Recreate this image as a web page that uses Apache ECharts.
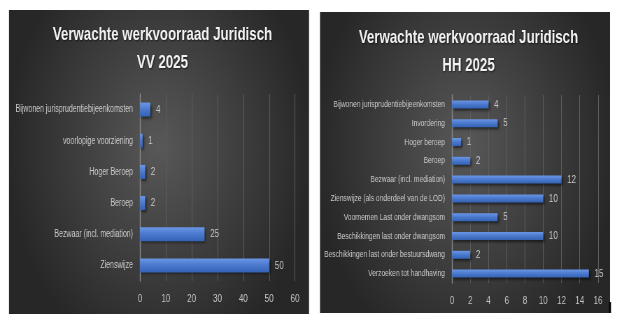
<!DOCTYPE html>
<html><head><meta charset="utf-8">
<script src="https://cdn.jsdelivr.net/npm/echarts@6/dist/echarts.min.js"></script>
<style>
html,body{margin:0;padding:0;background:#fff;overflow:hidden}
#wrap{width:624px;height:324px;overflow:hidden}
#c{width:892px;height:324px;transform:scaleX(0.69955);transform-origin:0 0}
</style>
</head><body><div id="wrap"><div id="c"></div></div>
<script>
// Left chart: VV 2025 (bottom-to-top order as echarts category axis)
const vvCategories = ['Zienswijze','Bezwaar (incl. mediation)','Beroep','Hoger Beroep','voorlopige voorziening','Bijwonen jurisprudentiebijeenkomsten'];
const vvValues = [50, 25, 2, 2, 1, 4];
const vvTicks = [0, 10, 20, 30, 40, 50, 60];
// Right chart: HH 2025
const hhCategories = ['Verzoeken tot handhaving','Beschikkingen last onder bestuursdwang','Beschikkingen last onder dwangsom','Voornemen Last onder dwangsom','Zienswijze (als onderdeel van de LOD)','Bezwaar (incl. mediation)','Beroep','Hoger beroep','Invordering','Bijwonen jurisprudentiebijeenkomsten'];
const hhValues = [15, 2, 10, 5, 10, 12, 2, 1, 5, 4];
const hhTicks = [0, 2, 4, 6, 8, 10, 12, 14, 16];
const titleVV = 'Verwachte werkvoorraad Juridisch\nVV 2025';
const titleHH = 'Verwachte werkvoorraad Juridisch\nHH 2025';

// The chart is drawn horizontally condensed (like the narrow Office font) via a CSS scaleX.
const W = 892, S = 624 / W;
const px = v => v / S;
const FONT = '"Liberation Sans", Arial, sans-serif';
const chart = echarts.init(document.getElementById('c'), null, {renderer:'canvas', width:W, height:324});
function bg(){
  return {type:'radial', x:0.5, y:0.45, r:0.72, colorStops:[{offset:0,color:'#585858'},{offset:1,color:'#272727'}]};
}
const barColor = {type:'linear',x:0,y:0,x2:0,y2:1,colorStops:[{offset:0,color:'#6a97e6'},{offset:0.5,color:'#4a78cc'},{offset:1,color:'#3462b4'}]};
function xAxis(gi, ticks){
  return {type:'value', gridIndex:gi, min:ticks[0], max:ticks[ticks.length-1], interval:ticks[1]-ticks[0],
    axisLine:{show:false}, axisTick:{show:false},
    splitLine:{lineStyle:{color:'#5e5e5e', width:1}},
    axisLabel:{color:'#c4c4c4', fontFamily:FONT, fontSize:11.5, margin:12}};
}
function yAxis(gi, cats, fs){
  return {type:'category', gridIndex:gi, data:cats,
    axisLine:{show:true, lineStyle:{color:'#8a8a8a', width:1.4}}, axisTick:{show:false},
    axisLabel:{color:'#cacaca', fontFamily:FONT, fontSize:fs, margin:10}};
}
function series(gi, vals, w){
  return {type:'bar', xAxisIndex:gi, yAxisIndex:gi, data:vals, barWidth:w,
    itemStyle:{color:barColor, shadowColor:'rgba(0,0,0,0.55)', shadowBlur:3, shadowOffsetX:2, shadowOffsetY:2},
    label:{show:true, position:'right', distance:8, color:'#c8c8c8', fontFamily:FONT, fontSize:11.5},
    silent:true, animation:false};
}
const titleStyle = {color:'#f2f2f2', fontFamily:FONT, fontWeight:'bold', fontSize:19, lineHeight:28,
  textShadowColor:'rgba(0,0,0,0.6)', textShadowBlur:2, textShadowOffsetX:1, textShadowOffsetY:1};
chart.setOption({
  backgroundColor:'#ffffff',
  animation:false,
  graphic:[
    {type:'rect', shape:{x:px(9),y:10,width:px(300),height:304}, style:{fill:bg()}, z:-10},
    {type:'rect', shape:{x:px(320),y:12,width:px(290),height:301}, style:{fill:bg()}, z:-10},
    {type:'rect', shape:{x:px(609),y:302,width:px(2),height:11}, style:{fill:'#000'}, z:-9}
  ],
  title:[
    {text:titleVV, left:px(159), top:16, textAlign:'center', textStyle:titleStyle},
    {text:titleHH, left:px(465), top:19, textAlign:'center', textStyle:titleStyle}
  ],
  grid:[
    {left:px(140), right:W-px(295), top:94, height:187, containLabel:false, outerBoundsMode:'none'},
    {left:px(452), right:W-px(598), top:95, height:188, containLabel:false, outerBoundsMode:'none'}
  ],
  xAxis:[xAxis(0, vvTicks), xAxis(1, hhTicks)],
  yAxis:[yAxis(0, vvCategories, 10), yAxis(1, hhCategories, 9.5)],
  series:[series(0, vvValues, 14), series(1, hhValues, 8)]
});
</script></body></html>
